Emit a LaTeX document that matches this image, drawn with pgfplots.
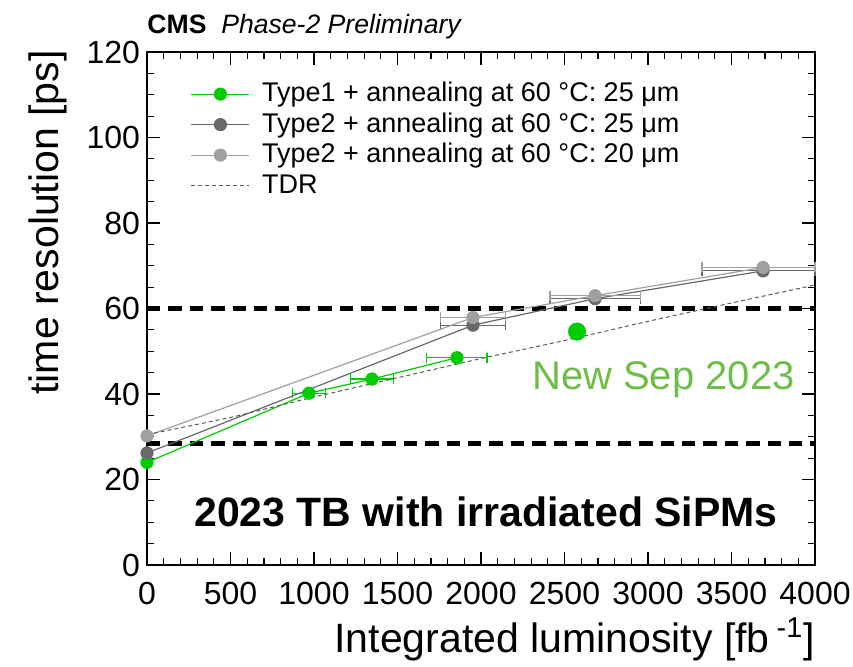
\documentclass[border=0pt]{standalone}
\usepackage{fontspec}
\setmainfont{Liberation Sans}
\usepackage{pgfplots}
\pgfplotsset{compat=1.18}
\definecolor{cmsgreen}{RGB}{0,204,0}
\definecolor{newgreen}{RGB}{108,190,72}
\definecolor{darkgr}{RGB}{105,105,105}
\definecolor{lightgr}{RGB}{160,160,160}
\definecolor{tdrgr}{RGB}{90,90,90}
\begin{document}
\begin{tikzpicture}
\begin{axis}[
  width=334pt, height=256.5pt, scale only axis,
  xmin=0, xmax=4000, ymin=0, ymax=120,
  xtick={0,500,...,4000}, ytick={0,20,...,120},
  minor x tick num=4, minor y tick num=3,
  tick align=inside,
  major tick length=6.5pt, minor tick length=3.5pt,
  every tick/.style={black, line width=0.6pt},
  axis line style={line width=1.2pt},
  /pgf/number format/.cd, set thousands separator={}, assume math mode=true,
  /pgfplots/.cd,
  ticklabel style={font=\fontsize{16}{19}\selectfont},
  xticklabel style={yshift=-5pt},
  xlabel={Integrated luminosity [fb\,\textsuperscript{-1}]},
  xlabel style={font=\fontsize{20.5}{24}\selectfont, at={(rel axis cs:1,0)}, anchor=north east, yshift=-26pt, inner sep=0pt},
  legend cell align=left,
  legend image code/.code={\draw[mark repeat=2,mark phase=2,#1] plot coordinates {(0pt,0pt) (14.5pt,0pt) (29pt,0pt)};},
  legend style={at={(rel axis cs:0.065,0.945)}, anchor=north west, draw=none, fill=none,
    font=\fontsize{13.5}{16}\selectfont, inner sep=0pt,
    nodes={inner sep=0pt, text height=10.5pt, text depth=3pt},
    row sep=1.75pt, column sep=6pt},
  clip=false,
]
% reference lines
\addplot[forget plot, black, line width=2.6pt, dash pattern=on 6.7pt off 4pt] coordinates {(0,60) (4000,60)};
\addplot[forget plot, black, line width=2.6pt, dash pattern=on 6.7pt off 4pt] coordinates {(0,28.5) (4000,28.5)};

% Type1 25 um
\addplot[color=cmsgreen, line width=0.6pt, mark=*, mark size=3pt, mark options={solid},
  error bars/.cd, x dir=both, x explicit, error mark=|,
  error bar style={line width=0.6pt}, error mark options={mark size=2.5pt, line width=0.6pt}]
  table[x error plus=ep, x error minus=em] {
x y ep em
0 24.0 0 0
970 40.2 100 100
1347 43.5 130 130
1856 48.5 180 180
};
\addlegendentry{Type1 + annealing at 60 °C: 25 μm}

% Type2 25 um
\addplot[color=darkgr, line width=0.6pt, mark=*, mark size=3pt, mark options={solid},
  error bars/.cd, x dir=both, x explicit, error mark=|,
  error bar style={line width=0.6pt}, error mark options={mark size=2.5pt, line width=0.6pt}]
  table[x error plus=ep, x error minus=em] {
x y ep em
0 26.2 0 0
1952 56.1 195 195
2683 62.3 270 270
3689 68.8 311 366
};
\addlegendentry{Type2 + annealing at 60 °C: 25 μm}

% Type2 20 um
\addplot[color=lightgr, line width=0.6pt, mark=*, mark size=3pt, mark options={solid},
  error bars/.cd, x dir=both, x explicit, error mark=|,
  error bar style={line width=0.6pt}, error mark options={mark size=2.5pt, line width=0.6pt}]
  table[x error plus=ep, x error minus=em] {
x y ep em
0 30.2 0 0
1952 57.9 195 195
2683 63.0 270 270
3689 69.6 311 366
};
\addlegendentry{Type2 + annealing at 60 °C: 20 μm}

% TDR
\addplot[color=tdrgr, line width=0.5pt, dash pattern=on 2pt off 1.5pt] coordinates {
(0,30.5) (500,34.5) (1000,39.3) (1500,43.8) (2000,48.3) (2500,52.5) (3000,57.0) (3500,61.3) (4000,65.5)};
\addlegendentry{TDR}

% New point
\addplot[forget plot, only marks, color=cmsgreen, mark=*, mark size=4.3pt] coordinates {(2575,54.6)};

\node[anchor=east, inner sep=0pt, text=newgreen, font=\fontsize{20}{24}\selectfont] at (axis cs:3880,43.3) {New Sep 2023};
\node[anchor=center, inner sep=0pt, font=\fontsize{20.5}{24}\selectfont\bfseries] at (axis cs:2030,12.4) {2023 TB with irradiated SiPMs};
\node[anchor=base west, inner sep=0pt, font=\fontsize{13.3}{16}\selectfont] at ([yshift=9.5pt]rel axis cs:0,1) {\textbf{CMS}\ \ \textit{Phase-2 Preliminary}};
\node[rotate=90, anchor=south east, inner sep=0pt, font=\fontsize{20.5}{24}\selectfont] at ([xshift=-40pt,yshift=1pt]rel axis cs:0,1) {time resolution [ps]};

\coordinate (pasw) at (rel axis cs:0,0);
\coordinate (pane) at (rel axis cs:1,1);
\end{axis}
\pgfresetboundingbox
\path ([xshift=-73.5pt,yshift=-50.5pt]pasw) rectangle ([xshift=19pt,yshift=26pt]pane);
\end{tikzpicture}
\end{document}
